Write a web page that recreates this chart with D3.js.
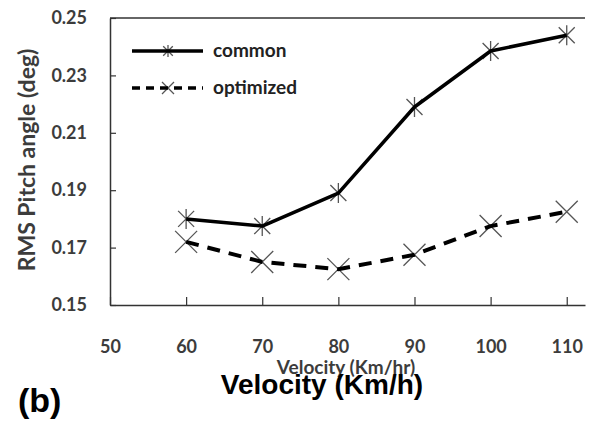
<!DOCTYPE html>
<html>
<head>
<meta charset="utf-8">
<script src="https://cdn.jsdelivr.net/npm/d3@7"></script>
<style>
  body { margin: 0; background: #fff; }
  svg { display: block; }
</style>
</head>
<body>
<div id="chart"></div>
<script>
const velocities = [60, 70, 80, 90, 100, 110];
const commonValues = [0.180, 0.1775, 0.189, 0.219, 0.2385, 0.244];
const optimizedValues = [0.172, 0.165, 0.1625, 0.1675, 0.1775, 0.1825];
const xTickValues = [50, 60, 70, 80, 90, 100, 110];
const yTickValues = [0.15, 0.17, 0.19, 0.21, 0.23, 0.25];
const seriesNames = ["common", "optimized"];

function renderChart() {
  const width = 589, height = 421;
  const plot = { left: 110, right: 585, top: 18, bottom: 305 };

  const svg = d3.select("#chart").append("svg")
    .attr("width", width)
    .attr("height", height);

  // Scales: axis runs a bit past 110, like the original
  const x = d3.scaleLinear().domain([50, 112.4]).range([plot.left, plot.right]);
  const y = d3.scaleLinear().domain([0.15, 0.25]).range([plot.bottom, plot.top]);

  const labelFont = "Lato, 'Open Sans', sans-serif";
  const styleLabel = (sel, size) => sel
    .attr("fill", "#3c3c3c")
    .style("font-family", labelFont)
    .style("font-size", size + "px")
    .style("font-weight", "bold");

  // Axes
  const xAxis = svg.append("g")
    .attr("transform", `translate(0, ${plot.bottom})`)
    .call(d3.axisBottom(x).tickValues(xTickValues).tickSize(-8).tickSizeOuter(0).tickPadding(35)
      .tickFormat(d3.format("d")));
  xAxis.select(".domain").attr("stroke", "#333").attr("stroke-width", 1.5);
  xAxis.selectAll(".tick line").attr("stroke", "#333").attr("stroke-width", 1.2);
  styleLabel(xAxis.selectAll(".tick text"), 18);

  const yAxis = svg.append("g")
    .attr("transform", `translate(${plot.left}, 0)`)
    .call(d3.axisLeft(y).tickValues(yTickValues).tickSize(-6).tickSizeOuter(0).tickPadding(23)
      .tickFormat(d3.format(".2f")));
  yAxis.select(".domain").attr("stroke", "#333").attr("stroke-width", 1.5);
  yAxis.selectAll(".tick line").attr("stroke", "#333").attr("stroke-width", 1.2);
  styleLabel(yAxis.selectAll(".tick text"), 18);

  // top border
  svg.append("line")
    .attr("x1", plot.left).attr("x2", plot.right)
    .attr("y1", y(0.25)).attr("y2", y(0.25))
    .attr("stroke", "#333").attr("stroke-width", 1.5);

  // Markers
  const star = s => `M${-s * 0.8},${-s * 0.8}L${s * 0.8},${s * 0.8}M${-s * 0.8},${s * 0.8}L${s * 0.8},${-s * 0.8}M0,${-s}L0,${s}`;
  const cross = s => `M${-s},${-s}L${s},${s}M${-s},${s}L${s},${-s}`;

  const commonData = velocities.map((v, i) => ({ v, val: commonValues[i] }));
  const optimizedData = velocities.map((v, i) => ({ v, val: optimizedValues[i] }));

  svg.selectAll(".mk-common").data(commonData).join("path")
    .attr("class", "mk-common")
    .attr("d", star(10))
    .attr("transform", d => `translate(${x(d.v)}, ${y(d.val)})`)
    .attr("fill", "none").attr("stroke", "#555").attr("stroke-width", 1.3);

  svg.selectAll(".mk-opt").data(optimizedData).join("path")
    .attr("class", "mk-opt")
    .attr("d", cross(11))
    .attr("transform", d => `translate(${x(d.v)}, ${y(d.val)})`)
    .attr("fill", "none").attr("stroke", "#555").attr("stroke-width", 1.3);

  const line = d3.line().x(d => x(d.v)).y(d => y(d.val));

  svg.append("path").datum(commonData)
    .attr("d", line)
    .attr("fill", "none").attr("stroke", "#000").attr("stroke-width", 3.5)
    .attr("stroke-linejoin", "round");

  svg.append("path").datum(optimizedData)
    .attr("d", line)
    .attr("fill", "none").attr("stroke", "#000").attr("stroke-width", 4)
    .attr("stroke-dasharray", "13,9");

  // Legend
  const legend = svg.append("g");
  const legendRows = [
    { name: seriesNames[0], y: 51, dash: null, marker: star(6) },
    { name: seriesNames[1], y: 88, dash: "8,6", marker: cross(6) }
  ];
  legendRows.forEach(r => {
    legend.append("path")
      .attr("d", r.marker)
      .attr("transform", `translate(168, ${r.y})`)
      .attr("fill", "none").attr("stroke", "#555").attr("stroke-width", 1.3);
    legend.append("line")
      .attr("x1", 132).attr("x2", 203).attr("y1", r.y).attr("y2", r.y)
      .attr("stroke", "#000").attr("stroke-width", 3.5)
      .attr("stroke-dasharray", r.dash);
    styleLabel(legend.append("text"), 19)
      .attr("x", 213).attr("y", r.y + 6)
      .attr("fill", "#222")
      .text(r.name);
  });

  // Axis titles
  styleLabel(svg.append("text"), 23)
    .attr("transform", `translate(35, 160) rotate(-90)`)
    .attr("text-anchor", "middle")
    .text("RMS Pitch angle (deg)");

  // the two x titles touch each other in the original figure
  styleLabel(svg.append("text"), 19)
    .attr("x", 346).attr("y", 374)
    .attr("text-anchor", "middle")
    .text("Velocity (Km/hr)");

  svg.append("text")
    .attr("x", 322).attr("y", 394)
    .attr("text-anchor", "middle")
    .attr("fill", "#000")
    .style("font-family", "'Liberation Sans', Arial, sans-serif").style("font-size", "28px").style("font-weight", "bold")
    .text("Velocity (Km/h)");

  svg.append("text")
    .attr("x", 18).attr("y", 412)
    .attr("fill", "#000")
    .style("font-family", "'Liberation Sans', Arial, sans-serif").style("font-size", "34px").style("font-weight", "bold")
    .text("(b)");
}

renderChart();
</script>
</body>
</html>
